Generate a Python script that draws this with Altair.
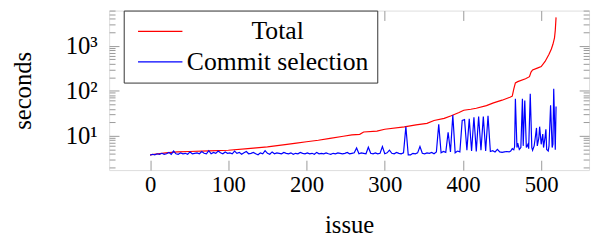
import altair as alt
import pandas as pd

# ---------------- data ----------------
total_issue = [0, 10, 20, 35, 50, 75, 100, 125, 150, 175, 187, 200, 215, 230, 247, 258, 268,
               273, 290, 300, 325, 340, 354, 363, 376, 385, 395, 401, 410, 417, 430, 439,
               450, 460, 463, 465, 467, 470, 480, 485, 487, 489, 495, 500, 505, 510, 513,
               515, 517, 518, 519]
total_sec = [3.8, 4.0, 4.2, 4.4, 4.5, 4.65, 4.8, 5.2, 5.7, 6.5, 6.9, 7.4, 8.0, 8.8, 9.8, 10.5, 10.8,
             12.2, 12.8, 14.0, 15.8, 17.5, 19.0, 22.0, 24.4, 28.0, 33.0, 37.0, 39.0, 41.0, 47.0, 54.0,
             62.0, 72.0, 76.0, 110.0, 150.0, 160.0, 185.0, 206.0, 260.0, 290.0, 320.0, 345.0,
             450.0, 650.0, 850.0, 1080.0, 1500.0, 2200.0, 4270.0]

commit_issue_head = list(range(0, 460, 3))
commit_sec_head = [
    3.7, 3.9, 3.8, 4.0, 3.9, 4.1, 3.9, 4.0, 4.3, 3.9,
    4.6, 4.0, 3.9, 4.2, 4.0, 4.1, 3.9, 4.4, 4.0, 4.1,
    4.2, 4.0, 4.5, 4.1, 4.0, 4.7, 4.0, 4.3, 4.1, 4.6,
    4.2, 4.0, 4.4, 4.1, 4.2, 4.0, 4.6, 4.1, 4.3, 3.9,
    4.2, 4.5, 4.0, 4.1, 4.3, 4.0, 3.8, 4.2, 4.0, 4.7,
    4.1, 3.9, 4.4, 4.0, 4.2, 4.1, 4.0, 4.3, 4.1, 4.0,
    4.2, 3.9, 4.1, 4.0, 4.3, 4.1, 4.0, 4.2, 4.0, 4.1,
    3.9, 4.3, 4.0, 4.1, 4.0, 4.2, 4.0, 3.9, 4.1, 4.0,
    4.2, 4.1, 4.0, 4.1, 4.3, 4.0, 4.1, 4.2, 5.4, 4.0,
    4.2, 4.1, 4.0, 5.6, 4.1, 4.0, 4.2, 4.0, 4.1, 5.8,
    4.0, 4.2, 4.8, 4.1, 4.0, 4.3, 4.1, 4.0, 4.2, 16.0,
    3.8, 3.8, 4.1, 4.0, 4.2, 5.8, 4.1, 4.0, 4.2, 4.1,
    4.3, 4.0, 4.4, 18.0, 4.2, 4.5, 4.3, 12.0, 4.4, 29.0,
    4.2, 4.6, 4.4, 22.0, 23.0, 4.8, 24.0, 4.6, 26.0, 4.5,
    27.0, 4.8, 27.0, 4.6, 28.0, 4.5, 4.7, 4.4, 5.0, 4.4,
    4.3, 4.4, 4.5, 4.4,
]
commit_issue_tail = [461, 463, 465, 466, 467, 469, 470, 472, 474, 476, 477, 479, 481, 483, 484,
                     486, 488, 489, 491, 492, 494, 495, 497, 498, 500, 502, 503, 505, 506, 507,
                     509, 510, 512, 514, 515, 516, 518, 519]
commit_sec_tail = [4.6, 5.2, 4.9, 5.8, 67.0, 5.5, 6.9, 5.0, 5.5, 67.0, 6.0, 61.0, 5.5, 6.5, 5.2,
                   86.0, 5.5, 4.8, 6.0, 8.0, 15.0, 6.0, 9.0, 16.0, 6.5, 11.0, 5.5, 9.5, 14.0, 5.0,
                   4.6, 6.0, 48.0, 5.5, 6.5, 111.0, 4.9, 45.0]

series_names = ["Total", "Commit selection"]
series_colors = ["#ff0000", "#0000ff"]
x_ticks = [0, 100, 200, 300, 400, 500]
y_major = [10, 100, 1000]
y_minor = [2, 3, 4, 5, 6, 7, 8, 9, 20, 30, 40, 50, 60, 70, 80, 90,
           200, 300, 400, 500, 600, 700, 800, 900, 2000, 3000, 4000, 5000, 6000]

commit_issue = commit_issue_head + commit_issue_tail
commit_sec = commit_sec_head + commit_sec_tail

df_total = pd.DataFrame({"issue": total_issue, "seconds": total_sec, "series": series_names[0]})
df_commit = pd.DataFrame({"issue": commit_issue, "seconds": commit_sec, "series": series_names[1]})

FONT = "Liberation Serif"
TICK = "#999999"

xscale = alt.Scale(domain=[-52.4, 561.2], nice=False, zero=False)
yscale = alt.Scale(type="log", domain=[10 ** 0.240, 10 ** 3.782], nice=False)
cscale = alt.Scale(domain=series_names, range=series_colors)

legend = alt.Legend(
    title=None, orient="none", legendX=14.8, legendY=0,
    strokeColor="#333333", fillColor="white", padding=8,
    symbolType="M-3,0L3,0", symbolSize=225, symbolStrokeWidth=1.2, symbolOffset=16,
    labelFont=FONT, labelFontSize=26, labelColor="black",
    labelAlign="center", labelOffset=106, labelLimit=400, rowPadding=5,
)

x_bottom = alt.Axis(orient="bottom", values=x_ticks, title="issue", grid=False, domain=False,
                    labelFont=FONT, labelFontSize=23, labelColor="black", labelFlush=False,
                    titleFont=FONT, titleFontSize=25, titleFontWeight="normal", titleColor="black",
                    tickColor=TICK, tickSize={"expr": "-10"}, labelPadding=14, titlePadding=16)
x_top = alt.Axis(orient="top", values=x_ticks, title=None, labels=False, grid=False, domain=False,
                 tickColor=TICK, tickSize={"expr": "-10"})
y_left = alt.Axis(orient="left", values=y_major, title="seconds", grid=False, domain=False,
                  labelExpr="datum.value == 10 ? '10¹' : datum.value == 100 ? '10²' : '10³'",
                  labelFont=FONT, labelFontSize=25, labelColor="black",
                  titleFont=FONT, titleFontSize=25, titleFontWeight="normal", titleColor="black",
                  tickColor=TICK, tickSize={"expr": "-10"}, labelPadding=22, titlePadding=30)
y_left_minor = alt.Axis(orient="left", values=y_minor, title=None, labels=False, grid=False,
                        domain=False, tickColor=TICK, tickSize={"expr": "-6"})
y_right = alt.Axis(orient="right", values=y_major, title=None, labels=False, grid=False,
                   domain=False, tickColor=TICK, tickSize={"expr": "-10"})
y_right_minor = alt.Axis(orient="right", values=y_minor, title=None, labels=False, grid=False,
                         domain=False, tickColor=TICK, tickSize={"expr": "-6"})

red = alt.Chart(df_total).mark_line(strokeWidth=1.2).encode(
    x=alt.X("issue:Q", scale=xscale, axis=x_bottom),
    y=alt.Y("seconds:Q", scale=yscale, axis=y_left),
    color=alt.Color("series:N", scale=cscale, legend=legend),
)
blue = alt.Chart(df_commit).mark_line(strokeWidth=1.2).encode(
    x=alt.X("issue:Q", scale=xscale, axis=x_top),
    y=alt.Y("seconds:Q", scale=yscale, axis=y_right),
    color=alt.Color("series:N", scale=cscale, legend=legend),
)
ghost1 = alt.Chart(df_total).mark_line(opacity=0).encode(
    x=alt.X("issue:Q", scale=xscale, axis=None),
    y=alt.Y("seconds:Q", scale=yscale, axis=y_left_minor),
)
ghost2 = alt.Chart(df_total).mark_line(opacity=0).encode(
    x=alt.X("issue:Q", scale=xscale, axis=None),
    y=alt.Y("seconds:Q", scale=yscale, axis=y_right_minor),
)

chart = alt.layer(red, blue, ghost1, ghost2).resolve_scale(
    x="shared", y="shared", color="shared"
).resolve_axis(
    x="independent", y="independent"
).properties(
    width=486.5, height=161.7,
    autosize=alt.AutoSizeParams(type="none"),
    padding={"left": 102.5, "top": 1, "right": 5, "bottom": 74},
).configure_view(
    stroke="black", strokeWidth=1
).configure(background="white")

chart.save("out.html", embed_options={"renderer": "svg", "actions": False})
